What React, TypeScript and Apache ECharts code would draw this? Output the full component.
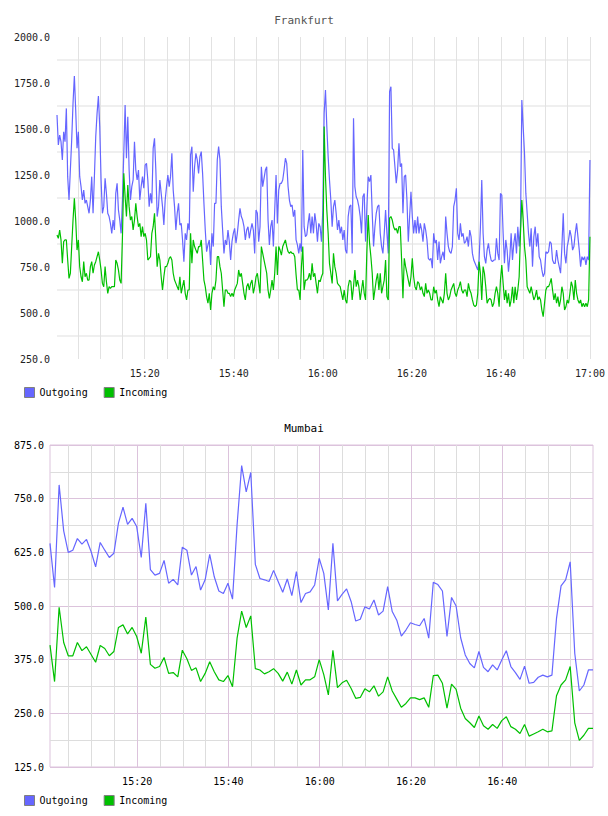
import React, { useEffect, useRef } from "react";
import * as echarts from "echarts";

const FONT = '"DejaVu Sans Mono", "Liberation Mono", monospace';

const SERIES_NAMES = ["Outgoing", "Incoming"];
const OUT_COLOR = "#6666ff";
const IN_COLOR = "#00c000";

// Frankfurt: one sample every 18 s, the first at 15:00:18 (minutes after 15:00)
const frankfurtStart = 0.3;
const frankfurtStep = 0.3;
const frankfurtOutgoing = [
  1576, 1413, 1467, 1431, 1332, 1485, 1431, 1612, 1241, 1114,
  1277, 1440, 1640, 1788, 1603, 1395, 1485, 1241, 1187, 1114,
  1168, 1096, 1114, 1078, 1042, 1114, 1241, 1042, 1241, 1458,
  1585, 1679, 1513, 1223, 1042, 1078, 1232, 1150, 1042, 1024,
  987, 933, 1005, 951, 1150, 1205, 1060, 1005, 933, 1114,
  1368, 1630, 1341, 1567, 1277, 1114, 1187, 1223, 1431, 1277,
  1223, 1277, 1114, 1187, 1241, 1178, 1304, 1313, 1223, 1078,
  1150, 1096, 1395, 1449, 1277, 1024, 1078, 1223, 1150, 1078,
  978, 1114, 1187, 1250, 1187, 1241, 1368, 1168, 1078, 951,
  1042, 1096, 978, 987, 897, 779, 933, 897, 987, 951,
  1359, 1404, 1159, 1295, 1368, 1332, 1259, 1350, 1377, 1259,
  1096, 951, 833, 870, 897, 761, 933, 861, 1096, 1096,
  1332, 1404, 1332, 1078, 951, 824, 897, 870, 951, 888,
  788, 888, 933, 960, 879, 933, 1005, 1069, 1024, 1005,
  969, 897, 951, 969, 906, 951, 987, 951, 824, 1060,
  1042, 888, 969, 1295, 1187, 1232, 1277, 1295, 1005, 870,
  969, 1005, 861, 1060, 1250, 987, 1168, 1205, 1205, 1223,
  1277, 1341, 1313, 1187, 1114, 1078, 1087, 1024, 1060, 897,
  870, 824, 879, 833, 1386, 969, 915, 924, 987, 1042,
  933, 1024, 933, 1042, 987, 888, 987, 969, 888, 1060,
  1585, 1712, 1513, 1350,
  1223, 1114, 969, 1078, 1114, 1042, 951, 1005, 933, 969,
  897, 951, 842, 824, 1024, 1078, 1087, 824, 1558, 1187,
  1132, 1114, 1078, 1024, 933, 1132, 1150, 888, 1078, 1241,
  1214, 1250, 1042, 861, 969, 1042, 1078, 1087, 933, 861,
  824, 933, 1060, 933, 824, 1703, 1730, 1395, 1386, 1295,
  1205, 1277, 1422, 1295, 1313, 1042, 1241, 1250, 1114, 888,
  1024, 1159, 1024, 933, 1005, 933, 1024, 933, 987, 951,
  888, 987, 951, 897, 797, 788, 797, 743, 933, 879,
  897, 788, 888, 770, 806, 833, 788, 1024, 933, 861,
  833, 824, 861, 1078, 1114, 1178, 933, 897, 987, 915,
  933, 879, 888, 915, 861, 951, 915, 824, 788, 770,
  752, 734, 788, 969, 1223, 933, 806, 770, 842, 879,
  824, 788, 779, 788, 788, 906, 824, 788, 1150, 1141,
  933, 770, 897, 842, 725, 806, 933, 788, 879, 933,
  824, 969, 861, 969, 1658, 1513, 1368, 1150, 1042, 933,
  861, 960, 752, 915, 969, 861, 933, 806, 788, 734,
  697, 716, 833, 824, 833, 888, 879, 788, 770, 770,
  842, 788, 752, 716, 861, 1042, 824, 770, 861, 897,
  951, 915, 842, 861, 933, 987, 915, 842, 752, 806,
  788, 806, 761, 806, 788, 1332,
];
const frankfurtIncoming = [
  924, 906, 951, 897, 770, 888, 897, 897, 788, 688,
  716, 861, 1005, 1123, 1005, 842, 897, 752, 697, 670,
  779, 697, 716, 679, 679, 752, 779, 716, 761, 779,
  806, 833, 788, 734, 661, 643, 752, 670, 607, 643,
  634, 643, 643, 643, 788, 770, 734, 679, 661, 915,
  1259, 1132, 1024, 1196, 1078, 1005, 1024, 951, 1005, 1096,
  1024, 969, 987, 915, 969, 915, 933, 897, 788, 797,
  806, 933, 969, 1042, 897, 752, 824, 788, 697, 625,
  697, 752, 752, 770, 797, 806, 788, 716, 679, 661,
  643, 625, 697, 607, 643, 679, 607, 571, 625, 625,
  933, 770, 897, 861, 842, 824, 861, 861, 897, 788,
  679, 643, 589, 553, 607, 516, 607, 643, 625, 679,
  806, 806, 752, 716, 625, 534, 625, 625, 607, 607,
  589, 607, 589, 625, 643, 661, 734, 697, 716, 661,
  607, 571, 643, 661, 625, 661, 679, 607, 643, 697,
  716, 661, 607, 861, 824, 788, 752, 716, 625, 580,
  625, 679, 625, 716, 861, 707, 861, 842, 815, 861,
  879, 897, 861, 833, 824, 833, 824, 824, 806, 707,
  625, 625, 571, 752, 861, 625, 679, 679, 688, 716,
  679, 770, 697, 716, 661, 607, 679, 670, 697, 716,
  1513, 1241, 1060, 933,
  770, 716, 661, 824, 752, 716, 661, 652, 643, 607,
  571, 625, 571, 553, 643, 679, 670, 571, 643, 734,
  643, 679, 643, 571, 625, 679, 607, 571, 842, 1033,
  879, 806, 716, 571, 625, 679, 716, 625, 716, 607,
  643, 679, 788, 589, 571, 1015, 1024, 1005, 969, 951,
  960, 933, 969, 969, 788, 580, 797, 752, 716, 679,
  643, 697, 797, 697, 643, 625, 670, 661, 625, 643,
  607, 589, 661, 607, 625, 607, 571, 571, 643, 607,
  625, 571, 534, 589, 571, 553, 607, 716, 607, 571,
  589, 625, 643, 661, 607, 589, 625, 643, 670, 625,
  607, 625, 625, 589, 661, 625, 607, 571, 543, 534,
  543, 607, 779, 716, 571, 752, 716, 643, 553, 571,
  580, 571, 534, 553, 607, 643, 607, 534, 679, 761,
  661, 571, 625, 553, 607, 534, 571, 643, 553, 643,
  571, 625, 697, 933, 1114, 1005, 861, 788, 643, 625,
  607, 643, 607, 571, 589, 625, 571, 589, 571, 516,
  480, 553, 625, 643, 643, 661, 688, 625, 571, 607,
  553, 589, 534, 571, 643, 607, 516, 534, 571, 553,
  607, 670, 643, 571, 679, 607, 571, 553, 571, 534,
  553, 534, 553, 534, 571, 915,
];

// Mumbai: one sample per minute, the first at 15:00:54 (minutes after 15:00)
const mumbaiStart = 0.9;
const mumbaiStep = 1;
const mumbaiOutgoing = [
  646, 543, 782, 675, 625, 630, 657, 644, 655, 627,
  591, 648, 630, 613, 623, 693, 730, 690, 704, 685,
  613, 739, 585, 572, 576, 606, 553, 562, 549, 637,
  630, 572, 592, 537, 561, 620, 568, 535, 529, 553,
  516, 689, 827, 766, 811, 597, 564, 561, 557, 583,
  557, 532, 563, 524, 580, 508, 529, 533, 549, 611,
  576, 491, 646, 512, 527, 540, 510, 465, 469, 498,
  493, 514, 479, 488, 545, 487, 467, 430, 444, 461,
  457, 454, 471, 425, 555, 550, 535, 429, 520, 500,
  426, 386, 366, 356, 394, 357, 347, 363, 351, 374,
  396, 359, 345, 329, 360, 320, 322, 334, 339, 335,
  339, 471, 547, 561, 603, 390, 302, 316, 351, 351,
];
const mumbaiIncoming = [
  409, 324, 497, 415, 384, 384, 415, 396, 405, 387,
  369, 408, 401, 384, 394, 450, 456, 435, 450, 429,
  390, 474, 364, 355, 359, 380, 343, 345, 335, 397,
  377, 350, 356, 324, 343, 370, 347, 328, 324, 338,
  312, 425, 488, 450, 477, 354, 351, 342, 347, 354,
  343, 325, 346, 318, 351, 316, 328, 328, 335, 375,
  340, 293, 397, 310, 321, 327, 308, 285, 287, 307,
  300, 314, 290, 300, 335, 302, 283, 264, 273, 286,
  286, 282, 286, 264, 338, 339, 320, 262, 318, 306,
  262, 238, 228, 217, 244, 221, 213, 224, 215, 233,
  242, 219, 213, 203, 224, 197, 202, 207, 213, 207,
  209, 291, 316, 328, 359, 228, 187, 199, 215, 215,
];

// Axis ranges and tick positions
const frankfurtY = { min: 250, max: 2000, step: 250 };
const mumbaiY = { min: 125, max: 875, step: 125 };
const frankfurtGridMinutes = [5, 10, 15, 20, 25, 30, 35, 40, 45, 50, 55, 60, 65, 70, 75, 80, 85, 90, 95, 100, 105, 110, 115, 120];
const mumbaiGridMinutes = [5, 10, 15, 20, 25, 30, 35, 40, 45, 50, 55, 60, 65, 70, 75, 80, 85, 90, 95, 100, 105, 110, 115];
const frankfurtLabelMinutes = [20, 40, 60, 80, 100, 120];
const mumbaiLabelMinutes = [20, 40, 60, 80, 100];

const toPairs = (values: number[], start: number, step: number) =>
  values.map((v, i) => [start + i * step, v]);

const clock = (m: number) => {
  const total = 15 * 60 + Math.round(m);
  const h = Math.floor(total / 60);
  const mm = total % 60;
  return `${h}:${mm < 10 ? "0" : ""}${mm}`;
};

const valueLabel = (v: number) => v.toFixed(1);

export default function App() {
  const ref = useRef<HTMLDivElement>(null);

  useEffect(() => {
    if (!ref.current) return;
    const chart = echarts.init(ref.current, null, { renderer: "svg" });

    const lineSeries = (name: string, color: string, data: number[][], idx: number) => ({
      name,
      type: "line",
      xAxisIndex: idx,
      yAxisIndex: idx,
      data,
      showSymbol: false,
      symbol: "none",
      silent: true,
      lineStyle: { color, width: 1.2 },
      itemStyle: { color },
    });

    const legendBase = {
      data: SERIES_NAMES,
      left: 24,
      padding: 0,
      orient: "horizontal",
      icon: "rect",
      itemWidth: 10,
      itemHeight: 10,
      itemGap: 16,
      selectedMode: false,
      itemStyle: { borderColor: "#808080", borderWidth: 1 },
      textStyle: { fontFamily: FONT, fontSize: 10, color: "#000" },
    };

    const titleStyle = { fontFamily: FONT, fontSize: 11, fontWeight: "normal" };

    chart.setOption({
      animation: false,
      backgroundColor: "#fff",
      title: [
        { text: "Frankfurt", left: "center", top: 15, padding: 0, textStyle: { ...titleStyle, color: "#555" } },
        { text: "Mumbai", left: "center", top: 423, padding: 0, textStyle: { ...titleStyle, color: "#000" } },
      ],
      legend: [
        { ...legendBase, top: 387 },
        { ...legendBase, top: 795 },
      ],
      grid: [
        { left: 57, right: 16, top: 37, height: 322, show: false },
        { left: 50, right: 15, top: 445, height: 322, show: true, borderColor: "#dcc3dc", borderWidth: 1, backgroundColor: "transparent" },
      ],
      xAxis: [
        {
          type: "value",
          gridIndex: 0,
          min: frankfurtStart,
          max: 120,
          axisLine: { show: false },
          axisTick: { show: false, customValues: frankfurtGridMinutes },
          axisLabel: {
            customValues: frankfurtLabelMinutes,
            formatter: (v: number) => clock(v),
            fontFamily: FONT,
            fontSize: 10,
            color: "#222",
            margin: 9,
          },
          splitLine: { show: true, lineStyle: { color: "#e2e2e2", width: 1 } },
        },
        {
          type: "value",
          gridIndex: 1,
          min: mumbaiStart,
          max: mumbaiStart + (mumbaiOutgoing.length - 1) * mumbaiStep,
          axisLine: { show: false },
          axisTick: { show: false, customValues: mumbaiGridMinutes },
          axisLabel: {
            customValues: mumbaiLabelMinutes,
            formatter: (v: number) => clock(v),
            fontFamily: FONT,
            fontSize: 10,
            color: "#000",
            margin: 9,
          },
          splitLine: {
            show: true,
            lineStyle: { color: ["#dddddd", "#dddddd", "#dddddd", "#dcc3dc"], width: 1 },
          },
        },
      ],
      yAxis: [
        {
          type: "value",
          gridIndex: 0,
          min: frankfurtY.min,
          max: frankfurtY.max,
          interval: frankfurtY.step,
          axisLine: { show: false },
          axisTick: { show: false },
          axisLabel: { formatter: valueLabel, fontFamily: FONT, fontSize: 10, color: "#222", margin: 7 },
          splitLine: { show: false },
          minorTick: { show: false, splitNumber: 2 },
          minorSplitLine: { show: true, lineStyle: { color: "#efefef", width: 2 } },
        },
        {
          type: "value",
          gridIndex: 1,
          min: mumbaiY.min,
          max: mumbaiY.max,
          interval: mumbaiY.step,
          axisLine: { show: false },
          axisTick: { show: false },
          axisLabel: { formatter: valueLabel, fontFamily: FONT, fontSize: 10, color: "#000", margin: 6 },
          splitLine: { show: true, lineStyle: { color: "#dcc3dc", width: 1 } },
          minorTick: { show: false, splitNumber: 2 },
          minorSplitLine: { show: true, lineStyle: { color: "#dddddd", width: 1 } },
        },
      ],
      series: [
        lineSeries("Outgoing", OUT_COLOR, toPairs(frankfurtOutgoing, frankfurtStart, frankfurtStep), 0),
        lineSeries("Incoming", IN_COLOR, toPairs(frankfurtIncoming, frankfurtStart, frankfurtStep), 0),
        lineSeries("Outgoing", OUT_COLOR, toPairs(mumbaiOutgoing, mumbaiStart, mumbaiStep), 1),
        lineSeries("Incoming", IN_COLOR, toPairs(mumbaiIncoming, mumbaiStart, mumbaiStep), 1),
      ],
    });

    return () => chart.dispose();
  }, []);

  return (
    <div
      ref={ref}
      style={{ position: "fixed", left: 0, top: 0, width: 608, height: 816, background: "#fff" }}
    />
  );
}
